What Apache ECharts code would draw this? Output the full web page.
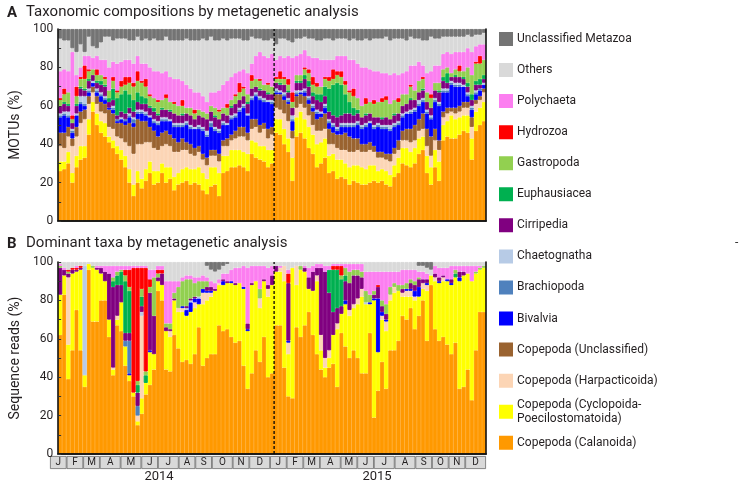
<!DOCTYPE html>
<html><head><meta charset="utf-8">
<script src="https://cdn.jsdelivr.net/npm/echarts@6/dist/echarts.min.js"></script>
<style>html,body{margin:0;padding:0;background:#fff}#c{width:743px;height:485px}</style>
</head><body><div id="c"></div>
<script>
// ---- categories / ticks ----
const monthLetters = ['J','F','M','A','M','J','J','A','S','O','N','D'];
const years = ['2014','2015'];
const samplesPerMonth2014 = [4,4,4,5,5,4,5,4,4,5,4,5];
const samplesPerMonth2015 = [4,4,4,5,4,4,5,5,4,4,4,5];
const yTicks = [0,20,40,60,80,100];

// stack order (bottom -> top)
const names = ['Copepoda (Calanoida)','Copepoda (Cyclopoida-Poecilostomatoida)','Copepoda (Harpacticoida)','Copepoda (Unclassified)','Bivalvia','Brachiopoda','Chaetognatha','Cirripedia','Euphausiacea','Gastropoda','Hydrozoa','Polychaeta','Others','Unclassified Metazoa'];
const colors = ['#ff9900','#ffff00','#fcd5b5','#9a6330','#0000ff','#4f81bd','#b7cbe6','#800080','#00b050','#92d050','#ff0000','#fc7ef0','#d9d9d9','#747474'];

// ---- Panel A: MOTUs (%) ----
const aCal = [26,27,30,20,28,32,33,45,57,50, 46,44,41,38,35,32,28,20,13,20, 17,21,25,19,20,25,20,22,16,19, 20,21,19,20,19,16,14,18,19,13, 25,26,28,28,29,28,26,35,33,32, 31,28,30,46,45,40,36,21,44,46, 43,38,35,28,30,33,25,26,22,23, 22,19,21,20,19,19,20,21,20,21, 19,18,23,25,30,29,28,30,35,37, 25,19,28,21,42,44,43,43,45,47, 46,32,47,50,52];
const aCyc = [5,4,6,5,6,7,6,8,5,6, 6,7,3,4,4,5,6,7,6,6, 5,6,6,7,6,5,8,6,7,6, 7,7,8,7,9,9,8,10,9,12, 9,8,9,9,8,8,9,7,8,7, 8,9,7,7,8,8,7,12,10,11, 10,11,10,12,11,10,9,9,10,9, 8,9,8,9,9,8,9,8,6,6, 7,6,6,8,8,9,8,8,8,7, 9,9,9,10,8,8,12,10,9,8, 9,11,10,9,10];
const aHar = [8,7,8,14,10,12,14,8,5,5, 5,5,5,6,5,6,7,12,16,14, 18,14,10,12,11,9,12,11,13,11, 10,9,8,7,8,7,7,6,6,6, 5,5,5,6,7,8,7,6,8,7, 9,6,8,6,5,8,9,10,5,4, 6,6,5,7,6,5,6,5,6,5, 7,8,7,8,8,9,8,7,7,6, 6,7,6,4,4,4,5,4,4,4, 5,6,5,6,4,4,2,3,3,4, 4,6,4,4,5];
const aUnc = [7,8,5,4,5,6,5,4,3,4, 5,5,9,8,7,8,9,12,14,13, 12,11,8,9,7,7,7,6,7,5, 6,4,5,4,3,3,4,3,3,4, 3,4,3,4,5,5,4,5,4,4, 3,5,4,7,8,7,9,4,6,5, 6,6,7,6,7,8,8,6,7,8, 9,8,7,6,4,4,4,3,3,3, 3,4,3,5,5,6,7,8,6,8, 9,10,6,5,3,3,2,3,3,3, 3,5,2,2,2];
const aBiv = [8,9,5,3,6,4,2,2,2,2, 3,2,1,2,1,2,2,3,2,3, 4,3,5,4,6,6,5,7,6,8, 6,9,8,10,9,12,11,12,10,11, 8,7,8,7,8,10,9,10,12,13, 11,14,12,1,1,2,1,5,1,1, 2,2,2,3,2,3,3,3,2,4, 3,5,6,7,8,9,10,9,13,12, 13,12,11,8,7,8,8,7,7,6, 8,9,14,18,10,8,12,11,10,8, 3,4,3,3,2];
const aBra = [1,1,1,1,0,1,1,1,0,1, 1,1,0,1,1,0,1,1,2,1, 1,1,0,1,1,1,1,0,1,1, 1,1,1,0,1,1,1,2,1,1, 1,0,1,1,1,1,0,1,1,1, 1,0,1,1,0,1,1,1,1,0, 1,1,1,1,0,1,1,1,1,1, 1,1,1,1,1,1,0,1,1,1, 1,1,1,1,1,0,1,1,1,1, 1,1,1,1,1,1,1,1,1,0, 1,1,1,1,0];
const aCha = [1,1,2,1,1,3,4,1,1,1, 1,1,0,1,0,1,0,1,1,1, 1,1,1,1,1,1,1,1,1,1, 1,1,1,1,1,1,2,1,1,1, 1,1,1,1,1,1,1,1,1,1, 1,1,1,1,1,1,1,2,1,1, 1,1,1,1,1,1,1,1,1,1, 1,1,1,1,1,1,1,1,1,1, 1,2,1,1,1,1,1,1,2,1, 1,1,1,1,1,1,1,1,1,1, 1,1,1,0,1];
const aCir = [4,4,3,3,4,4,3,4,3,3, 4,5,3,3,2,3,3,3,3,4, 3,4,4,4,3,4,4,4,5,4, 4,4,5,4,5,5,6,5,5,5, 4,4,4,5,4,4,5,4,3,3, 4,3,3,3,3,4,3,4,4,4, 5,5,4,5,5,4,4,4,5,4, 5,5,4,4,4,4,4,4,3,3, 4,3,4,4,4,4,5,4,4,4, 4,4,4,5,4,3,2,3,3,3, 3,3,3,2,2];
const aEup = [0,1,1,0,1,1,1,1,0,1, 2,1,2,6,9,9,12,7,6,5, 4,3,1,2,1,1,0,1,0,0, 1,0,0,0,0,0,0,0,1,0, 0,0,1,0,0,0,1,0,0,1, 0,1,0,0,1,0,1,0,1,1, 2,3,2,3,4,5,12,16,18,16, 10,6,4,2,0,1,0,0,0,1, 0,0,1,0,0,0,1,0,0,1, 0,0,0,1,2,5,0,1,0,1, 2,3,2,3,2];
const aGas = [3,4,6,2,4,4,5,4,3,3, 3,3,4,4,3,4,3,6,7,6, 7,6,5,5,6,4,6,4,5,5, 4,3,4,3,3,3,3,3,4,4, 3,4,3,4,4,4,4,4,4,4, 3,4,4,2,2,3,3,3,3,3, 3,4,4,4,4,4,4,3,4,4, 5,5,6,6,6,5,6,7,8,8, 9,8,7,6,6,5,6,5,6,5, 5,5,4,4,4,3,2,3,3,3, 8,10,9,8,8];
const aHyd = [1,3,0,2,5,1,7,1,0,3, 0,1,0,2,1,3,4,3,2,5, 1,4,1,0,1,0,2,0,1,0, 3,0,0,2,0,0,0,0,0,1, 0,2,0,1,5,1,0,3,0,1, 0,1,0,1,4,1,3,5,0,0, 1,2,4,2,0,1,2,5,2,3, 2,1,4,0,0,3,0,2,0,2, 2,0,0,2,0,0,1,0,0,1, 0,2,0,0,0,0,0,0,3,0, 0,0,1,4,0];
const aPol = [14,10,11,33,6,5,5,7,6,7, 8,9,12,8,14,10,9,9,10,8, 9,8,14,14,15,14,12,13,12,14, 10,12,10,9,9,8,6,7,8,10, 12,12,12,11,6,9,11,6,12,14, 15,13,17,9,8,10,12,18,10,11, 9,7,10,13,14,9,9,5,8,8, 13,16,15,18,20,16,17,15,16,13, 12,15,14,12,11,12,10,13,10,6, 10,12,9,9,8,8,10,9,7,10, 10,12,8,6,8];
const aOth = [17,15,16,2,12,12,2,10,6,4, 9,12,16,11,13,12,11,10,12,10, 12,13,14,17,16,17,18,19,20,20, 21,24,25,27,27,30,32,29,27,26, 24,21,20,18,17,15,17,14,9,7, 8,9,8,8,9,10,8,8,9,8, 7,9,10,9,10,11,11,10,9,9, 9,10,11,12,14,15,15,17,17,18, 19,18,18,19,18,16,15,14,12,13, 17,18,14,14,9,8,9,8,8,8, 7,8,6,5,6];
const aMet = [5,6,6,10,12,8,12,4,9,10, 7,4,4,6,5,5,5,6,6,4, 6,5,6,5,6,6,4,6,6,6, 6,5,6,6,6,5,6,4,6,6, 5,6,5,5,5,6,6,4,5,5, 6,6,5,8,5,5,6,7,5,5, 4,5,5,6,6,5,5,6,5,5, 5,6,5,6,6,5,6,5,5,5, 4,6,5,5,5,6,4,5,5,6, 6,4,5,5,4,4,4,4,4,4, 3,4,3,3,2];

// ---- Panel B: Sequence reads (%) ----
const bCal = [62,83,39,54,75,54,35,96,69,69, 80,80,61,41,67,64,46,38,30,15, 21,31,36,44,85,80,44,43,62,55, 48,49,47,52,66,46,50,52,52,67, 64,65,61,58,59,46,34,42,54,48, 61,40,42,67,67,45,30,29,66,61, 67,74,62,52,44,40,45,47,35,63, 56,50,54,50,42,42,63,19,33,48, 34,54,54,59,72,70,76,65,72,80, 59,88,65,59,61,57,52,58,34,35, 44,28,54,74,74];
const bCyc = [21,10,18,40,20,42,6,3,28,27, 14,10,9,3,3,15,10,3,2,2, 8,6,17,8,5,8,20,18,18,19, 26,23,27,24,12,32,30,30,33,21, 24,24,28,30,30,40,30,46,36,28, 29,42,46,28,28,45,22,68,22,35, 28,12,23,38,10,5,5,15,30,10, 22,22,22,28,40,36,15,61,20,22, 30,26,30,26,10,12,6,15,10,6, 26,5,25,30,29,33,36,34,56,58, 50,62,40,22,23];
const bHar = [0,0,35,0,0,0,0,0,0,0, 0,0,0,1,2,0,0,0,0,3, 43,0,0,0,0,0,0,3,0,2, 2,0,0,3,0,6,4,2,0,1, 0,0,0,0,0,0,0,0,0,5, 0,4,0,0,2,8,6,0,10,0, 0,0,0,3,8,5,4,0,3,0, 0,3,2,3,4,0,0,0,0,2, 5,3,3,0,2,3,3,2,0,3, 3,0,2,0,2,0,0,0,0,0, 0,0,0,0,0];
const bUnc = [0,0,0,0,0,0,0,0,0,0, 0,0,0,0,0,0,0,0,0,0, 0,0,0,0,0,0,0,0,0,0, 0,0,0,0,0,0,0,0,0,0, 0,0,0,0,0,0,0,0,0,0, 0,0,0,0,0,0,0,0,0,0, 0,0,0,0,0,0,0,0,0,0, 0,0,0,0,0,0,0,0,0,0, 0,0,0,0,0,0,0,0,0,0, 0,0,0,0,0,0,0,0,0,0, 0,0,0,0,0];
const bBiv = [0,0,0,0,0,0,0,0,0,0, 0,0,0,0,0,0,0,1,0,0, 0,0,1,0,0,0,0,0,0,0, 1,3,5,2,3,2,1,1,0,0, 2,0,1,0,0,1,1,0,0,0, 0,0,0,0,0,0,1,0,0,0, 0,0,0,0,0,0,0,0,0,0, 2,0,0,0,0,0,1,1,28,2, 1,0,0,0,0,1,1,3,5,0, 1,0,0,1,0,1,1,0,2,0, 0,0,0,0,0];
const bBra = [0,0,0,0,0,0,0,0,0,0, 0,0,0,0,0,0,3,17,0,5, 0,0,0,0,0,0,0,0,0,0, 0,0,0,0,0,0,0,0,0,0, 0,0,0,0,0,0,0,0,0,0, 0,0,0,0,0,0,0,0,0,0, 0,0,0,0,0,0,0,0,0,0, 0,0,0,0,0,0,0,0,0,0, 0,0,0,0,0,0,0,0,0,0, 0,0,0,0,0,0,0,0,0,0, 0,0,0,0,0];
const bCha = [0,0,0,0,0,0,57,0,0,0, 0,0,0,0,0,0,0,0,0,0, 2,0,0,0,0,0,0,0,0,0, 0,1,1,0,1,0,0,0,0,0, 0,0,0,0,0,0,0,0,0,0, 0,0,0,0,0,0,0,0,0,0, 0,0,0,0,0,0,0,0,0,0, 0,0,0,0,0,1,0,0,0,0, 0,0,0,0,0,0,0,0,0,0, 0,0,0,0,0,0,0,0,0,0, 0,0,0,0,0];
const bCir = [14,3,2,2,1,1,0,0,0,1, 3,5,24,42,16,9,4,4,0,7, 3,0,30,20,2,6,2,1,1,0, 0,1,1,1,0,0,2,2,1,0, 1,1,0,1,0,0,3,1,0,0, 1,2,5,3,0,0,30,0,0,0, 2,6,10,4,35,45,30,12,8,4, 10,14,15,12,6,0,0,2,6,3, 3,0,0,0,2,0,3,3,4,2, 2,0,2,2,1,0,2,0,3,2, 0,0,0,0,0];
const bEup = [0,0,0,0,0,0,0,0,0,0, 0,0,0,3,5,7,27,22,0,4, 5,4,0,0,0,0,0,0,0,0, 0,0,0,0,0,0,0,0,0,0, 0,0,0,0,0,0,0,0,0,0, 0,0,0,0,0,0,0,0,0,0, 0,0,0,0,0,0,12,22,20,14, 3,0,0,0,0,0,0,0,0,0, 0,0,0,0,0,0,0,0,0,0, 0,0,0,0,0,0,0,2,0,0, 0,0,0,0,0];
const bGas = [1,0,1,0,0,0,0,0,1,0, 0,0,0,2,2,1,3,2,0,2, 4,2,3,20,2,0,2,3,3,11, 13,14,10,7,8,4,3,0,0,0, 0,0,0,0,0,0,0,0,0,5, 0,0,0,0,0,0,0,0,0,2, 0,0,0,0,0,0,0,0,0,2, 4,6,3,3,3,6,4,2,0,3, 5,4,2,3,2,3,2,2,1,0, 0,0,0,0,0,0,0,2,0,0, 0,0,1,1,1];
const bHyd = [0,0,1,1,1,1,0,0,0,0, 0,0,0,0,0,0,3,9,65,59, 11,54,4,0,2,2,0,0,0,0, 0,0,0,0,0,0,0,0,0,0, 0,0,0,0,0,0,0,0,0,0, 0,0,0,0,0,0,5,0,0,0, 0,0,0,0,0,0,0,2,2,5, 0,0,0,0,0,0,0,0,1,0, 0,0,0,0,0,0,0,0,0,0, 0,0,0,0,0,0,0,0,0,0, 0,0,0,0,0];
const bPol = [1,1,0,0,1,0,0,0,0,1, 1,3,4,6,3,2,2,2,1,1, 1,1,5,4,2,2,22,22,6,3, 2,2,2,3,2,3,2,3,3,2, 3,4,6,8,8,11,29,9,8,12, 7,9,5,0,1,0,2,0,0,0, 1,5,3,2,2,3,2,1,1,1, 2,4,3,3,4,10,12,10,7,15, 17,8,6,7,8,7,5,6,3,4, 3,0,4,5,4,6,7,2,3,3, 4,8,3,1,0];
const bOth = [1,3,4,3,2,2,2,1,2,2, 2,2,2,2,2,2,2,2,2,2, 2,2,4,4,2,2,10,10,10,10, 8,7,7,8,8,7,6,6,6,5, 4,5,4,3,3,2,3,2,2,2, 2,3,2,2,2,2,4,3,2,2, 2,3,2,1,1,2,2,1,1,1, 1,1,1,1,1,5,5,5,5,5, 5,5,5,5,4,4,4,4,3,3, 3,3,2,3,3,3,2,2,2,2, 2,2,2,2,2];
const bMet = [0,0,0,0,0,0,0,0,0,0, 0,0,0,0,0,0,0,0,0,0, 0,0,0,0,0,0,0,0,0,0, 0,0,0,0,0,0,2,4,5,4, 2,1,0,0,0,0,0,0,0,0, 0,0,0,0,0,0,0,0,0,0, 0,0,0,0,0,0,0,0,0,0, 0,0,0,0,0,0,0,0,0,0, 0,0,0,0,0,0,0,0,2,2, 3,4,0,0,0,0,0,0,0,0, 0,0,0,0,0];

const panelA = [aCal,aCyc,aHar,aUnc,aBiv,aBra,aCha,aCir,aEup,aGas,aHyd,aPol,aOth,aMet];
const panelB = [bCal,bCyc,bHar,bUnc,bBiv,bBra,bCha,bCir,bEup,bGas,bHyd,bPol,bOth,bMet];

// ---- build categories ----
const categories = [];
[[years[0], samplesPerMonth2014],[years[1], samplesPerMonth2015]].forEach(([y, counts]) => {
  counts.forEach((n, m) => { for (let k = 1; k <= n; k++) categories.push(y + '-' + (m + 1) + '-' + k); });
});
const n2014 = samplesPerMonth2014.reduce((a, b) => a + b, 0);
const nAll = categories.length;

const FONT = 'Roboto, "Noto Sans", sans-serif';
const TXT = '#231f20';
const FRAME = {show: true, lineStyle: {color: '#111', width: 1.6}};

function stackSeries(data, stack, xi, yi) {
  return data.map((arr, i) => ({
    type: 'bar', name: names[i], stack: stack, xAxisIndex: xi, yAxisIndex: yi,
    barCategoryGap: '0%', barGap: '0%',
    data: arr.map(v => v === 0 ? '-' : v),
    itemStyle: {color: colors[i], borderColor: colors[i], borderWidth: 0.9},
    emphasis: {disabled: true}, silent: true, z: 2
  }));
}

const xCat = gi => ({type: 'category', gridIndex: gi, data: categories, position: 'bottom',
  axisLine: FRAME, axisTick: {show: false}, axisLabel: {show: false}, splitLine: {show: false}, z: 10});
const xTop = gi => ({type: 'value', gridIndex: gi, min: 0, max: nAll, position: 'top',
  axisLine: FRAME, axisTick: {show: false}, axisLabel: {show: false}, splitLine: {show: false}, z: 10});
const yLeft = (gi, name) => ({type: 'value', gridIndex: gi, min: yTicks[0], max: yTicks[yTicks.length - 1], interval: 20,
  position: 'left', axisLine: FRAME,
  axisTick: {show: true, inside: true, length: 3, lineStyle: {color: '#333'}},
  minorTick: {show: true, splitNumber: 2, length: 3, lineStyle: {color: '#333'}},
  axisLabel: {fontSize: 12, color: TXT, margin: 5, fontFamily: FONT},
  splitLine: {show: false},
  name: name, nameLocation: 'middle', nameGap: 30, nameRotate: 90,
  nameTextStyle: {fontSize: 14, color: TXT, fontFamily: FONT}, z: 10});
const yRight = gi => ({type: 'value', gridIndex: gi, min: 0, max: 100, position: 'right',
  axisLine: FRAME, axisTick: {show: false}, axisLabel: {show: false}, splitLine: {show: false}, z: 10});

const monthCounts = samplesPerMonth2014.concat(samplesPerMonth2015);
const monthNames = monthLetters.concat(monthLetters);
const monthSeries = monthCounts.map((n, i) => ({
  type: 'bar', name: 'month' + i, stack: 'months', xAxisIndex: 4, yAxisIndex: 4,
  barWidth: '100%', data: [n], silent: true,
  itemStyle: {color: '#d9d9d9', borderColor: '#6b6b6b', borderWidth: 0.8},
  label: {show: true, position: 'inside', formatter: monthNames[i], fontSize: 10, color: TXT, fontFamily: FONT}
}));

const dashed = (xi, yi) => ({
  type: 'line', xAxisIndex: xi, yAxisIndex: yi, data: [[n2014, 0], [n2014, 100]],
  symbol: 'none', silent: true, z: 20,
  lineStyle: {type: [3, 2], color: '#000', width: 1.3}
});

const legendNames = names.slice().reverse();
const legends = legendNames.map((n, i) => {
  const two = n.indexOf('Cyclopoida-') >= 0;
  const cy = 39 + 31.06 * i;
  const lg = {data: [n], left: 499, top: two ? cy - 14 : cy - 7, orient: 'vertical', padding: 0,
    itemWidth: 12, itemHeight: 12, icon: 'rect', selectedMode: false,
    textStyle: {fontSize: 12, lineHeight: 14, color: TXT, fontFamily: FONT}};
  if (two) lg.formatter = t => t.replace('Cyclopoida-', 'Cyclopoida-\n');
  return lg;
});

const option = {
  animation: false,
  backgroundColor: '#fff',
  textStyle: {fontFamily: FONT},
  title: [
    {text: 'A', left: 7, top: 6, padding: 0, textStyle: {fontSize: 15, fontWeight: 'bold', color: TXT, fontFamily: FONT}},
    {text: 'Taxonomic compositions by metagenetic analysis', left: 26, top: 5, padding: 0, textStyle: {fontSize: 15, fontWeight: 'normal', color: TXT, fontFamily: FONT}},
    {text: 'B', left: 7, top: 237, padding: 0, textStyle: {fontSize: 15, fontWeight: 'bold', color: TXT, fontFamily: FONT}},
    {text: 'Dominant taxa by metagenetic analysis', left: 26, top: 236, padding: 0, textStyle: {fontSize: 15, fontWeight: 'normal', color: TXT, fontFamily: FONT}}
  ],
  legend: legends,
  grid: [
    {left: 50, top: 29, width: 436, height: 192},
    {left: 50, top: 262, width: 436, height: 192},
    {left: 50, top: 456, width: 436, height: 13}
  ],
  xAxis: [
    xCat(0), xTop(0), xCat(1), xTop(1),
    {type: 'value', gridIndex: 2, min: 0, max: nAll, show: false, position: 'top'},
    {type: 'category', gridIndex: 2, data: years, position: 'bottom',
      axisLine: {show: false}, axisTick: {show: false},
      axisLabel: {fontSize: 13, color: TXT, margin: 1, fontFamily: FONT}}
  ],
  yAxis: [
    yLeft(0, 'MOTUs (%)'), yRight(0), yLeft(1, 'Sequence reads (%)'), yRight(1),
    {type: 'category', gridIndex: 2, data: ['m'], show: false}
  ],
  graphic: [{type: 'text', left: 735, top: 237, style: {text: '-', fontSize: 12, fill: '#333', fontFamily: FONT}}],
  series: [].concat(
    stackSeries(panelA, 'A', 0, 0),
    stackSeries(panelB, 'B', 2, 2),
    [dashed(1, 0), dashed(3, 2)],
    monthSeries
  )
};

const chart = echarts.init(document.getElementById('c'), null, {renderer: 'canvas'});
chart.setOption(option);
</script>
</body></html>
